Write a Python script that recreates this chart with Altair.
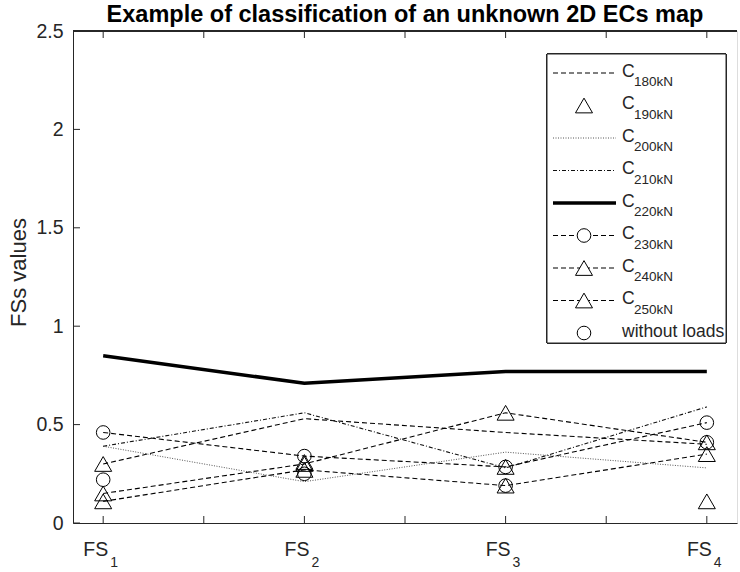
import altair as alt
import pandas as pd

# ---------------- data ----------------
feature_pos = [1, 2, 3, 4]
feature_main = ["FS", "FS", "FS", "FS"]
feature_sub = ["1", "2", "3", "4"]

series_names = ["C180kN", "C190kN", "C200kN", "C210kN", "C220kN",
                "C230kN", "C240kN", "C250kN", "without loads"]
legend_main = ["C", "C", "C", "C", "C", "C", "C", "C", "without loads"]
legend_sub = ["180kN", "190kN", "200kN", "210kN", "220kN", "230kN", "240kN", "250kN", ""]

c180 = [0.30, 0.53, 0.46, 0.40]
c190 = [0.30, 0.31, 0.285, 0.11]
c200 = [0.39, 0.21, 0.36, 0.28]
c210 = [0.39, 0.56, 0.28, 0.59]
c220 = [0.85, 0.71, 0.77, 0.77]
c230 = [0.46, 0.34, 0.285, 0.51]
c240 = [0.15, 0.30, 0.56, 0.41]
c250 = [0.11, 0.27, 0.19, 0.35]
no_load = [0.22, 0.25, 0.19, 0.41]

series_values = [c180, c190, c200, c210, c220, c230, c240, c250, no_load]
line_kind = ["dash", "none", "dot", "dashdot", "solid", "dash", "dash", "dash", "none"]
marker_kind = ["none", "triangle-up", "none", "none", "none", "circle",
               "triangle-up", "triangle-up", "circle"]

x_ticks = [1, 1.5, 2, 2.5, 3, 3.5, 4]
y_ticks = [0, 0.5, 1, 1.5, 2, 2.5]

# ---------------- tables ----------------
rows = []
for name, vals, lk, mk in zip(series_names, series_values, line_kind, marker_kind):
    for p, v in zip(feature_pos, vals):
        rows.append({"series": name, "pos": p, "value": v, "line": lk, "marker": mk})
df = pd.DataFrame(rows)

leg = pd.DataFrame({"row": list(range(len(series_names))), "series": series_names,
                    "main": legend_main, "sub": legend_sub,
                    "line": line_kind, "marker": marker_kind})
lbl = pd.DataFrame({"pos": feature_pos, "main": feature_main, "sub": feature_sub})
xt = pd.DataFrame({"v": x_ticks})
yt = pd.DataFrame({"v": y_ticks})

W, H = 664, 492
FONT = "Liberation Sans"
AX = "#262626"

xscale = alt.Scale(domain=[0.85, 4.15], nice=False, zero=False)
yscale = alt.Scale(domain=[0, 2.5], nice=False, zero=False)


def X(field):
    return alt.X(f"{field}:Q", scale=xscale,
                 axis=alt.Axis(labels=False, ticks=False, grid=False, title=None,
                               domainColor=AX, domainWidth=1))


def Y(field):
    return alt.Y(f"{field}:Q", scale=yscale,
                 axis=alt.Axis(values=y_ticks, format=".1~f", ticks=False, tickSize=0,
                               grid=False, labelFontSize=19.5, labelPadding=10,
                               labelColor=AX, labelFont=FONT, domainColor=AX,
                               title="FSs values", titleFontSize=22, titleFont=FONT,
                               titleFontWeight="normal", titleColor=AX,
                               titleX=-55, titleY=241, titleBaseline="middle",
                               titleAngle=270))


shape_scale = alt.Scale(domain=["triangle-up", "circle"], range=["triangle-up", "circle"])
size_scale = alt.Scale(domain=["triangle-up", "circle"], range=[290, 185])

base = alt.Chart(df)
dash_styles = {"dash": dict(strokeDash=[5, 3], strokeWidth=1.1, color="#000"),
               "dot": dict(strokeDash=[1, 1.5], strokeWidth=1, color="#555"),
               "dashdot": dict(strokeDash=[4, 2, 1, 2], strokeWidth=1.1, color="#111"),
               "solid": dict(strokeWidth=3.5, color="#000")}

layers = []
for kind, st in dash_styles.items():
    layers.append(
        base.transform_filter(alt.datum.line == kind)
        .mark_line(**st)
        .encode(x=X("pos"), y=Y("value"), detail="series:N")
    )

points = base.transform_filter(alt.datum.marker != "none").mark_point(
    filled=False, color="#000", strokeWidth=1, opacity=1
).encode(
    x=X("pos"), y=Y("value"),
    shape=alt.Shape("marker:N", scale=shape_scale, legend=None),
    size=alt.Size("marker:N", scale=size_scale, legend=None),
)
layers.append(points)

# axis ticks (inward) and top frame
xt_bottom = alt.Chart(xt).mark_rule(color=AX, strokeWidth=1).encode(
    x=X("v"), y=alt.value(H), y2=alt.value(H - 7))
xt_top = alt.Chart(xt).mark_rule(color=AX, strokeWidth=1).encode(
    x=X("v"), y=alt.value(0), y2=alt.value(7))
yt_left = alt.Chart(yt).mark_rule(color=AX, strokeWidth=1).encode(
    y=Y("v"), x=alt.value(0), x2=alt.value(7))
top_line = alt.Chart(xt).mark_rule(color=AX, strokeWidth=1).encode(
    x=alt.value(0), x2=alt.value(W), y=alt.value(0))

lbl_main = alt.Chart(lbl).mark_text(align="right", baseline="alphabetic", fontSize=19.5,
                                    font=FONT, color=AX, dx=5).encode(
    x=X("pos"), y=alt.value(H + 33), text="main:N")
lbl_sub = alt.Chart(lbl).mark_text(align="left", baseline="alphabetic", fontSize=14,
                                   font=FONT, color=AX, dx=7).encode(
    x=X("pos"), y=alt.value(H + 44), text="sub:N")

# ---------------- manual legend ----------------
lb = alt.Chart(leg).transform_calculate(
    ly="42 + 32.5 * datum.row",
    ty="45.7 + 32.5 * datum.row",
    sy="55 + 32.5 * datum.row",
)
leg_box = alt.Chart(leg).mark_rect(fill="white", stroke=AX, strokeWidth=1).encode(
    x=alt.value(474), x2=alt.value(653), y=alt.value(23), y2=alt.value(312))
leg_layers = [leg_box]
for kind, st in dash_styles.items():
    leg_layers.append(
        lb.transform_filter(alt.datum.line == kind).mark_rule(**st).encode(
            x=alt.value(480), x2=alt.value(543), y=alt.Y("ly:Q", scale=None))
    )
leg_layers.append(
    lb.transform_filter(alt.datum.marker != "none").mark_point(
        filled=True, fill="white", stroke="#000", strokeWidth=1, opacity=1
    ).encode(
        x=alt.value(511), y=alt.Y("ly:Q", scale=None),
        shape=alt.Shape("marker:N", scale=shape_scale, legend=None),
        size=alt.Size("marker:N", scale=size_scale, legend=None),
    )
)
leg_layers.append(
    lb.mark_text(align="left", baseline="alphabetic", fontSize=17.5, font=FONT, color=AX).encode(
        x=alt.value(549), y=alt.Y("ty:Q", scale=None), text="main:N")
)
leg_layers.append(
    lb.mark_text(align="left", baseline="alphabetic", fontSize=13.5, font=FONT, color=AX).encode(
        x=alt.value(561), y=alt.Y("sy:Q", scale=None), text="sub:N")
)

chart = alt.layer(
    *layers, xt_bottom, xt_top, yt_left, top_line, lbl_main, lbl_sub, *leg_layers
).properties(
    width=W, height=H,
    title=alt.TitleParams("Example of classification of an unknown 2D ECs map",
                          fontSize=23.5, font=FONT, fontWeight="bold", color="#000",
                          anchor="middle", frame="group", offset=6, dy=11),
    autosize=alt.AutoSizeParams(type="none"),
    padding={"left": 73, "top": 31, "right": 3, "bottom": 49},
).configure_view(stroke=None).configure(background="white")

chart.save("out.html", embed_options={"renderer": "svg", "actions": False})
